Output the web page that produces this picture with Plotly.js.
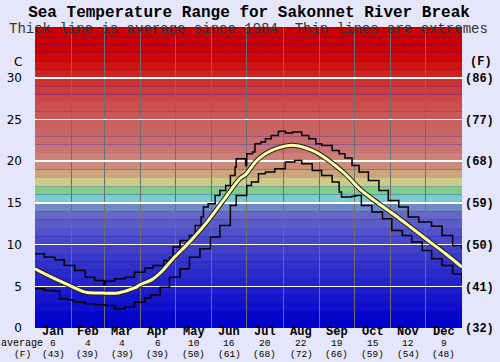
<!DOCTYPE html>
<html><head><meta charset="utf-8">
<script src="https://cdn.plot.ly/plotly-3.0.1.min.js"></script>
<style>html,body{margin:0;padding:0;background:#e6e6fa;}#chart{width:500px;height:362px;}</style>
</head><body><div id="chart"></div>
<script>
// ---- data ----
const monthNames = ["Jan","Feb","Mar","Apr","May","Jun","Jul","Aug","Sep","Oct","Nov","Dec"];
const monthMidDays = [15.5,45,74.5,105,135.5,166,196.5,227.5,258,288.5,319,349.5];
const monthStartDays = [31,59,90,120,151,181,212,243,273,304,334];
const monthAvgC = ["6","4","4","6","10","16","20","22","19","15","12","9"];
const monthAvgF = ["(43)","(39)","(39)","(39)","(50)","(61)","(68)","(72)","(66)","(59)","(54)","(48)"];

const avgDays  = [0,14,28,43,57,71,85,90,100,107,118,132,147,161,175,180,189,197,208,222,237,251,265,279,294,308,322,336,351,365];
const avgTemps = [7.1,6.1,5.2,4.3,4.2,4.2,4.8,5.2,5.8,6.6,8.3,10.3,12.7,15.3,17.9,18.4,20.0,20.9,21.6,21.9,21.3,20.1,18.5,16.5,14.9,13.5,12.0,10.5,8.9,7.3];

const upperDays  = [0,8,17,25,34,43,51,59,60,68,77,85,94,101,110,115,118,124,132,137,142,144,148,154,158,163,167,171,172,177,180,181,186,188,193,197,202,208,214,220,228,234,240,245,254,260,265,271,277,285,294,302,311,319,328,339,348,357,365];
const upperTemps = [8.9,8.5,8.2,7.5,6.9,6.1,5.7,5.2,5.6,5.9,6.1,6.7,7.2,7.5,8.1,8.5,9.7,10.5,11.1,12.3,13.3,14.5,14.9,15.9,16.5,17.1,18.3,19.3,20.3,20.3,19.5,20.9,21.1,22.1,22.3,22.7,23.1,23.6,23.4,23.5,23.1,22.7,22.1,21.9,21.3,20.9,20.4,19.5,18.7,17.7,16.5,15.3,14.5,13.3,12.7,12.2,11.1,9.9,9.4];

const lowerDays  = [0,8,17,21,28,33,43,51,60,68,77,85,94,99,107,115,124,132,141,150,158,167,172,181,185,191,197,205,214,222,228,237,245,254,260,262,271,274,279,288,297,305,314,322,331,339,348,357,365];
const lowerTemps = [4.7,4.5,4.4,3.5,3.4,3.1,2.9,2.8,2.7,2.3,2.5,3.1,3.6,4.0,4.9,6.1,7.1,8.5,9.5,10.9,12.3,14.7,15.9,17.1,17.5,18.5,18.7,19.1,19.9,20.1,19.7,18.9,18.3,17.5,16.3,15.7,15.8,15.9,14.7,13.9,13.1,11.7,11.1,10.3,9.3,8.3,7.5,6.5,5.4];

const cTickVals = [0,5,10,15,20,25,30];
const cTickText = ["0","5","10","15","20","25","30"];
const fTickVals = [32,41,50,59,68,77,86];
const fTickText = ["(32)","(41)","(50)","(59)","(68)","(77)","(86)"];

const bandColors = ["#0000cc","#0707cc","#0e0ecc","#1515cc","#1c1ccc","#2323cc","#2a2acb","#3131ca","#3838ca","#4040c9",
  "#4848c8","#5252c8","#5c5cc8","#6668c8","#7088c4","#78cccc","#80cc88","#cccc88","#cca57c","#cc8c7c",
  "#cc8078","#c87474","#c86c6c","#c86666","#c86060","#cc5858","#cc5050","#cc4848","#cc3c3c","#cc3030",
  "#cc2222","#cc1414","#cc0808","#cc0000","#cc0000","#cc0000","#cc0000"];

// ---- chart ----
const YMAX = 36.1;
const shapes = bandColors.map((c,i)=>({type:"rect",xref:"paper",yref:"y",x0:0,x1:1,y0:i,y1:i+1,
  fillcolor:c,line:{width:0},layer:"below"}));

const mono = "Liberation Mono, Courier New, monospace";
const ann = [];
monthNames.forEach((m,i)=>{
  ann.push({x:monthMidDays[i],xref:"x",y:0,yref:"paper",yanchor:"middle",yshift:-4,text:m,showarrow:false,
    font:{family:mono,size:12,weight:"bold",color:"#000"}});
  ann.push({x:monthMidDays[i],xref:"x",y:0,yref:"paper",yanchor:"middle",yshift:-15,text:monthAvgC[i],showarrow:false,
    font:{family:mono,size:9.5,color:"#000"}});
  ann.push({x:monthMidDays[i],xref:"x",y:0,yref:"paper",yanchor:"middle",yshift:-26.5,text:monthAvgF[i],showarrow:false,
    font:{family:mono,size:9.5,color:"#000"}});
});
ann.push({x:0,xref:"paper",xanchor:"center",xshift:-13,y:0,yref:"paper",yanchor:"middle",yshift:-15,text:"average",showarrow:false,font:{family:mono,size:10,color:"#000"}});
ann.push({x:0,xref:"paper",xanchor:"center",xshift:-13,y:0,yref:"paper",yanchor:"middle",yshift:-26.5,text:"(F)",showarrow:false,font:{family:mono,size:9.5,color:"#000"}});
ann.push({x:0,xref:"paper",xanchor:"center",xshift:-17,y:31.95,yref:"y",yanchor:"middle",text:"C",showarrow:false,font:{family:"DejaVu Sans, sans-serif",size:12,color:"#000"}});
ann.push({x:1,xref:"paper",xanchor:"center",xshift:19,y:31.95,yref:"y",yanchor:"middle",text:"(F)",showarrow:false,font:{family:mono,size:12,weight:"bold",color:"#000"}});
ann.push({x:0.5,xref:"paper",y:1,yref:"paper",yanchor:"middle",yshift:-2,text:"Thick line is average since 1984. Thin lines are extremes",showarrow:false,font:{family:mono,size:14,color:"#333"}});

const traces = [
  {x:upperDays,y:upperTemps,type:"scatter",mode:"lines",line:{color:"#000",width:1.5,shape:"hv"},hoverinfo:"skip"},
  {x:lowerDays,y:lowerTemps,type:"scatter",mode:"lines",line:{color:"#000",width:1.5,shape:"hv"},hoverinfo:"skip"},
  {x:avgDays,y:avgTemps,type:"scatter",mode:"lines",line:{color:"#222",width:5,shape:"spline"},hoverinfo:"skip"},
  {x:avgDays,y:avgTemps,type:"scatter",mode:"lines",line:{color:"#ffffaa",width:3,shape:"spline"},hoverinfo:"skip"},
  {x:[0],y:[32],yaxis:"y2",type:"scatter",mode:"markers",marker:{opacity:0},hoverinfo:"skip"}
];

const layout = {
  width:500,height:362,
  margin:{l:35,r:38,t:27,b:34,pad:0},
  paper_bgcolor:"#e6e6fa",plot_bgcolor:"#0000cc",
  showlegend:false,
  title:{text:"<b>Sea Temperature Range for Sakonnet River Break</b>",x:0.498,xref:"container",y:1-11/362,yref:"container",yanchor:"middle",
    font:{family:mono,size:16,color:"#000"}},
  xaxis:{range:[0,365],tickvals:monthStartDays,showticklabels:false,ticks:"",showgrid:true,gridcolor:"#6e6e6e",gridwidth:1,zeroline:false,showline:false,fixedrange:true},
  yaxis:{range:[0,YMAX],tickvals:cTickVals,ticktext:cTickText,ticks:"",showgrid:true,gridcolor:"#ffffff",gridwidth:1.5,zeroline:false,showline:false,
    tickfont:{family:"DejaVu Sans, sans-serif",size:12,color:"#000"},ticklabelstandoff:12},
  yaxis2:{overlaying:"y",side:"right",range:[32,32+YMAX*1.8],tickvals:fTickVals,ticktext:fTickText,ticks:"",showgrid:false,zeroline:false,showline:false,
    tickfont:{family:mono,size:12,weight:"bold",color:"#000"},ticklabelstandoff:2},
  shapes:shapes,
  annotations:ann
};
Plotly.newPlot("chart",traces,layout,{staticPlot:true,displayModeBar:false});
</script></body></html>
